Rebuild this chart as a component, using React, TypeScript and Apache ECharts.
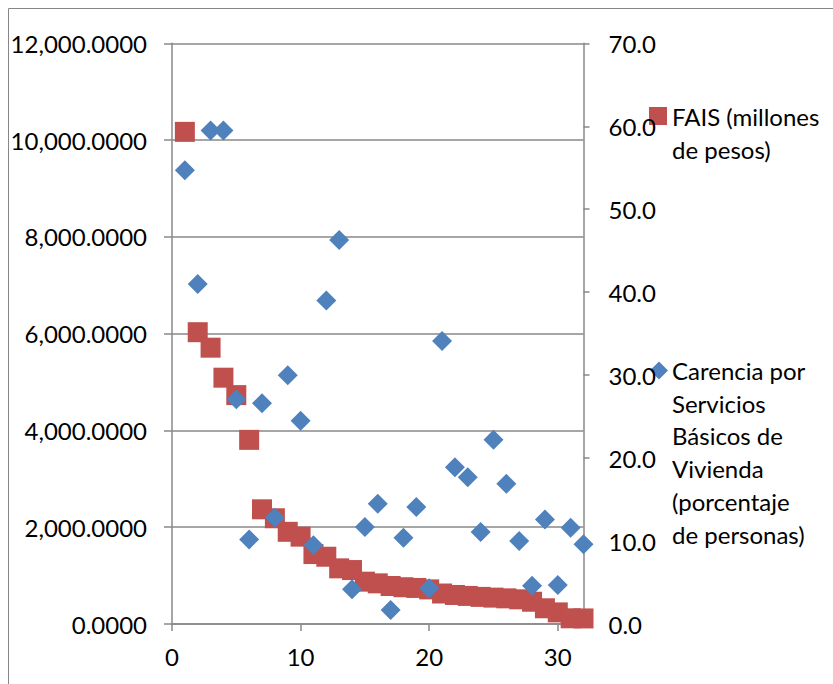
import React, { useEffect, useRef } from "react";
import * as echarts from "echarts";

// Municipality rank (1..32) shared by both series
const municipios = [1, 2, 3, 4, 5, 6, 7, 8, 9, 10, 11, 12, 13, 14, 15, 16, 17, 18, 19, 20, 21, 22, 23, 24, 25, 26, 27, 28, 29, 30, 31, 32];

// FAIS (millones de pesos) – left axis
const fais = [10170, 6030, 5710, 5090, 4730, 3805, 2370, 2185, 1905, 1805, 1445, 1390, 1150, 1115, 875, 840, 785, 760, 745, 715, 630, 600, 580, 560, 545, 530, 510, 460, 325, 240, 118, 115];

// Carencia por servicios básicos de vivienda (%) – right axis
const carencia = [54.7, 41.0, 59.5, 59.5, 27.1, 10.2, 26.6, 12.8, 30.0, 24.5, 9.5, 39.0, 46.3, 4.2, 11.7, 14.5, 1.7, 10.4, 14.1, 4.3, 34.1, 18.9, 17.7, 11.1, 22.2, 16.9, 10.0, 4.6, 12.6, 4.7, 11.6, 9.6];

const xTicks = [0, 10, 20, 30];
const faisName = "FAIS (millones de pesos)";
const carenciaName = "Carencia por Servicios Básicos de Vivienda (porcentaje de personas)";
const faisLegendLines = ["FAIS (millones", "de pesos)"];
const carenciaLegendLines = ["Carencia por", "Servicios", "Básicos de", "Vivienda", "(porcentaje", "de personas)"];

const RED = "#C0504D";
const BLUE = "#4F81BD";
const GRAY = "#888888";
const FONT = "Lato";
const FS = 24;

function fmtLeft(v: number): string {
  const s = Math.round(v).toString().replace(/\B(?=(\d{3})+(?!\d))/g, ",");
  return s + ".0000";
}

export default function App() {
  const ref = useRef<HTMLDivElement>(null);

  useEffect(() => {
    if (!ref.current) return;
    const chart = echarts.init(ref.current, null, { renderer: "svg" });
    const textStyle = { fontFamily: FONT, fontSize: FS, color: "#000" };
    const lh = 32.7;

    chart.setOption({
      animation: false,
      backgroundColor: "#fff",
      grid: { left: 172, right: 249.5, top: 43.3, bottom: 60, containLabel: false },
      xAxis: {
        type: "value",
        min: 0,
        max: 32,
        interval: 10,
        axisLine: { show: true, onZero: false, lineStyle: { color: GRAY, width: 1.5 } },
        axisTick: { show: true, inside: false, length: 7, customValues: xTicks, lineStyle: { color: GRAY, width: 1.5 } },
        axisLabel: { ...textStyle, margin: 20, customValues: xTicks },
        splitLine: { show: false },
      },
      yAxis: [
        {
          type: "value",
          min: 0,
          max: 12000,
          interval: 2000,
          position: "left",
          axisLine: { show: true, lineStyle: { color: GRAY, width: 1.5 } },
          axisTick: { show: true, inside: false, length: 8, lineStyle: { color: GRAY, width: 1.5 } },
          axisLabel: { ...textStyle, margin: 25, formatter: (v: number) => fmtLeft(v) },
          splitLine: { show: true, lineStyle: { color: GRAY, width: 1.5 } },
        },
        {
          type: "value",
          min: 0,
          max: 70,
          interval: 10,
          position: "right",
          axisLine: { show: true, lineStyle: { color: GRAY, width: 1.5 } },
          axisTick: { show: true, inside: false, length: 6, lineStyle: { color: GRAY, width: 1.5 } },
          axisLabel: { ...textStyle, margin: 25, formatter: (v: number) => v.toFixed(1) },
          splitLine: { show: false },
        },
      ],
      series: [
        {
          name: faisName,
          type: "scatter",
          yAxisIndex: 0,
          symbol: "rect",
          symbolSize: 20,
          itemStyle: { color: RED, opacity: 1 },
          data: municipios.map((m, i) => [m, fais[i]]),
        },
        {
          name: carenciaName,
          type: "scatter",
          yAxisIndex: 1,
          symbol: "diamond",
          symbolSize: 20,
          itemStyle: { color: BLUE, opacity: 1 },
          data: municipios.map((m, i) => [m, carencia[i]]),
        },
      ],
      graphic: [
        // chart frame (left and top edges)
        { type: "line", shape: { x1: 8.5, y1: 8.5, x2: 833, y2: 8.5 }, style: { stroke: "#868686", lineWidth: 1 } },
        { type: "line", shape: { x1: 8.5, y1: 8.5, x2: 8.5, y2: 684 }, style: { stroke: "#868686", lineWidth: 1 } },
        // legend: FAIS
        { type: "rect", shape: { x: 649, y: 107, width: 18, height: 18 }, style: { fill: RED } },
        ...faisLegendLines.map((t, i) => ({
          type: "text",
          x: 672,
          y: 116.5 + i * lh,
          style: { text: t, fontFamily: FONT, fontSize: FS, fill: "#000", verticalAlign: "middle", align: "left" },
        })),
        // legend: Carencia
        {
          type: "polygon",
          shape: { points: [[659, 361.5], [668, 370.5], [659, 379.5], [650, 370.5]] },
          style: { fill: BLUE },
        },
        ...carenciaLegendLines.map((t, i) => ({
          type: "text",
          x: 672,
          y: 370.5 + i * lh,
          style: { text: t, fontFamily: FONT, fontSize: FS, fill: "#000", verticalAlign: "middle", align: "left" },
        })),
      ],
    });

    return () => chart.dispose();
  }, []);

  return (
    <div
      ref={ref}
      style={{ position: "fixed", left: 0, top: 0, width: 833, height: 684 }}
    />
  );
}
